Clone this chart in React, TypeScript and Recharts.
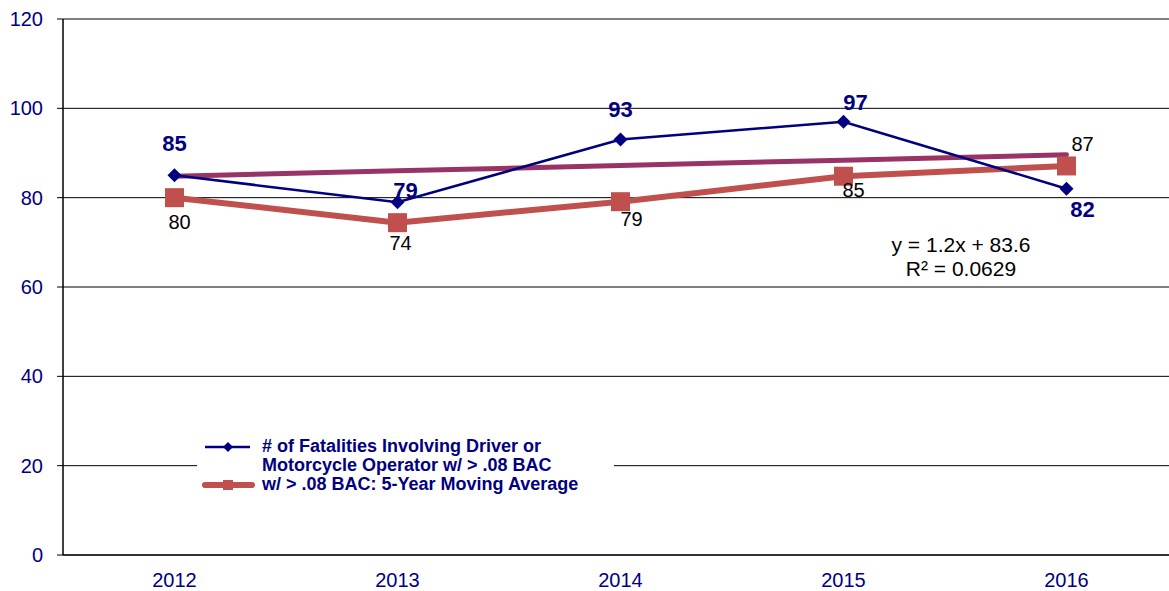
import { CartesianGrid, LabelList, Line, LineChart, XAxis, YAxis } from "recharts";

const years = ["2012", "2013", "2014", "2015", "2016"];
const fatalities = [85, 79, 93, 97, 82];
const movingAvg = [80, 74.4, 79.1, 84.8, 87.1];
const trend = [84.8, 86.0, 87.2, 88.4, 89.6];
const yTicks = [0, 20, 40, 60, 80, 100, 120];
const seriesNames = [
  "# of Fatalities Involving Driver or Motorcycle Operator w/ > .08 BAC",
  "w/ > .08 BAC: 5-Year Moving Average",
];
const trendText = ["y = 1.2x + 83.6", "R\u00b2 = 0.0629"];

// label placement relative to each point (style, not data)
const fatalLabelOffset = [[0, -32], [8, -12], [0, -30], [12, -19], [16, 21]];
const avgLabelOffset = [[5, 24], [3, 20], [11, 17], [10, 14], [16, -22]];

const NAVY = "#000080";
const RED = "#C0504D";
const PLUM = "#993366";
const FONT = "Arial, 'Liberation Sans', sans-serif";

const data = years.map((year, i) => ({
  x: i + 1,
  year,
  fatal: fatalities[i],
  avg: movingAvg[i],
  trend: trend[i],
}));

function Diamond({ cx, cy }: any) {
  if (cx == null || cy == null) return null;
  const r = 7;
  return <polygon points={`${cx},${cy - r} ${cx + r},${cy} ${cx},${cy + r} ${cx - r},${cy}`} fill={NAVY} />;
}

function Square({ cx, cy }: any) {
  if (cx == null || cy == null) return null;
  const s = 19;
  return <rect x={cx - s / 2} y={cy - s / 2} width={s} height={s} fill={RED} />;
}

function makeLabel(offsets: number[][], style: any) {
  return (props: any) => {
    const { x, y, value, index } = props;
    const [dx, dy] = offsets[index] || [0, 0];
    return (
      <text x={x + dx} y={y + dy} textAnchor="middle" dominantBaseline="central" {...style}>
        {Math.round(value)}
      </text>
    );
  };
}

function LegendBox() {
  return (
    <div
      style={{
        position: "absolute",
        left: 197,
        top: 437,
        background: "#fff",
        width: 417,
        height: 60,
        fontFamily: FONT,
        fontWeight: "bold",
        fontSize: 18,
        lineHeight: "19px",
        color: NAVY,
      }}
    >
      <svg width={60} height={60} style={{ position: "absolute", left: 0, top: 0 }}>
        <line x1={8} y1={10} x2={53} y2={10} stroke={NAVY} strokeWidth={2.5} />
        <polygon points="31,5 36,10 31,15 26,10" fill={NAVY} />
        <line x1={8} y1={48} x2={55} y2={48} stroke={RED} strokeWidth={6} strokeLinecap="round" />
        <rect x={26} y={43} width={10} height={10} fill={RED} />
      </svg>
      <div style={{ position: "absolute", left: 65, top: 0, width: 305, whiteSpace: "normal" }}>
        {seriesNames[0]}
      </div>
      <div style={{ position: "absolute", left: 65, top: 38, whiteSpace: "nowrap" }}>{seriesNames[1]}</div>
    </div>
  );
}

export default function App() {
  return (
    <div style={{ position: "absolute", left: 0, top: 0, width: 1169, height: 591, overflow: "hidden", background: "#fff" }}>
      <LineChart width={1180} height={591} data={data} margin={{ top: 19, right: 2, left: 0, bottom: 0 }}>
        <CartesianGrid horizontal vertical={false} stroke="#000" strokeWidth={1} />
        <XAxis
          dataKey="x"
          type="number"
          domain={[0.5, 5.5]}
          ticks={[1, 2, 3, 4, 5]}
          tickFormatter={(v: number) => years[v - 1]}
          height={36}
          tickSize={0}
          tickMargin={18}
          axisLine={{ stroke: "#333", strokeWidth: 2 }}
          tick={{ fill: NAVY, fontSize: 20, fontFamily: FONT }}
        />
        <XAxis
          xAxisId="bounds"
          dataKey="x"
          type="number"
          domain={[0.5, 5.5]}
          ticks={[0.5, 1.5, 2.5, 3.5, 4.5, 5.5]}
          height={0}
          tickSize={7}
          axisLine={false}
          tickLine={{ stroke: "#333", strokeWidth: 1 }}
          tick={() => <g />}
        />
        <YAxis
          domain={[0, 120]}
          ticks={yTicks}
          width={63}
          tickSize={6}
          tickMargin={14}
          axisLine={{ stroke: "#000", strokeWidth: 1.5 }}
          tickLine={{ stroke: "#000" }}
          tick={{ fill: NAVY, fontSize: 20, fontFamily: FONT }}
        />
        <Line
          dataKey="trend"
          stroke={PLUM}
          strokeWidth={5}
          strokeLinecap="round"
          dot={false}
          activeDot={false}
          isAnimationActive={false}
        />
        <Line
          dataKey="avg"
          name={seriesNames[1]}
          stroke={RED}
          strokeWidth={6}
          dot={<Square />}
          activeDot={false}
          isAnimationActive={false}
        >
          <LabelList dataKey="avg" content={makeLabel(avgLabelOffset, { fill: "#000", fontSize: 20, fontFamily: FONT })} />
        </Line>
        <Line
          dataKey="fatal"
          name={seriesNames[0]}
          stroke={NAVY}
          strokeWidth={2.5}
          dot={<Diamond />}
          activeDot={false}
          isAnimationActive={false}
        >
          <LabelList
            dataKey="fatal"
            content={makeLabel(fatalLabelOffset, { fill: NAVY, fontSize: 22, fontWeight: "bold", fontFamily: FONT })}
          />
        </Line>
      </LineChart>
      <LegendBox />
      <div
        style={{
          position: "absolute",
          left: 861,
          top: 233,
          width: 200,
          textAlign: "center",
          fontFamily: FONT,
          fontSize: 21,
          lineHeight: "24px",
          color: "#000",
        }}
      >
        {trendText[0]}
        <br />
        {trendText[1]}
      </div>
    </div>
  );
}
